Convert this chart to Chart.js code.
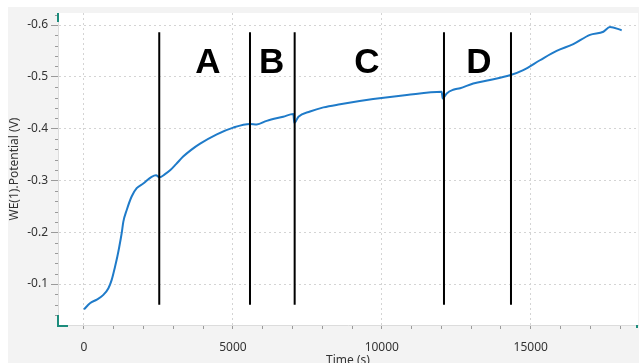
<!DOCTYPE html>
<html>
<head>
<meta charset="utf-8">
<script src="https://cdn.jsdelivr.net/npm/chart.js@4/dist/chart.umd.min.js"></script>
<style>
  html, body { margin: 0; padding: 0; background: #ffffff; }
  #wrap { width: 639px; height: 363px; }
</style>
</head>
<body>
<div id="wrap"><canvas id="c" width="639" height="363"></canvas></div>
<script>
// ---- data ----
const timeSec = [0, 200, 430, 650, 820, 930, 1040, 1120, 1185, 1265,
  1320, 1435, 1600, 1770, 1990, 2270, 2420, 2530, 2720, 2900,
  3100, 3330, 3600, 3900, 4460, 5010, 5575, 5800, 6135, 6690, 7030,
  7062, 7200, 7590, 8040, 8600, 9710, 10840, 12010, 12045, 12180,
  12400, 12630, 13070, 13630, 14300, 14750, 15310, 15870, 16430, 16990,
  17440, 17660, 18055];
const potentialV = [-0.051, -0.063, -0.070, -0.079, -0.092, -0.108, -0.133, -0.153, -0.172, -0.198,
  -0.220, -0.243, -0.269, -0.285, -0.294, -0.307, -0.310, -0.306, -0.312, -0.320,
  -0.332, -0.346, -0.359, -0.371, -0.389, -0.402, -0.409, -0.408, -0.415, -0.423, -0.428,
  -0.411, -0.423, -0.433, -0.441, -0.447, -0.457, -0.465, -0.471, -0.458, -0.468,
  -0.475, -0.478, -0.487, -0.494, -0.503, -0.513, -0.532, -0.550, -0.563, -0.581,
  -0.587, -0.596, -0.590];
const boundaryTimes = [2527, 5574, 7074, 12088, 14338];
const boundaryTop = -0.586;
const boundaryBottom = -0.060;
const regionLabels = ['A', 'B', 'C', 'D'];
const regionLabelTimes = [4164, 6303, 9503, 13264];
const regionLabelLevel = -0.531;
const xTickLabels = [0, 5000, 10000, 15000];
const yTickLabels = [-0.6, -0.5, -0.4, -0.3, -0.2, -0.1];
const xTitle = 'Time (s)';
const yTitle = 'WE(1).Potential (V)';

// ---- tick positions (minor every 1000 s / 0.02 V, labelled every 5000 s / 0.1 V) ----
const xTickValues = [];
for (let k = 0; k <= 18; k++) xTickValues.push(k * 1000);
const yTickValues = [];
for (let k = -31; k <= -2; k++) yTickValues.push(Math.round(k * 2) / 100);

// ---- build datasets ----
const curve = timeSec.map((t, i) => ({ x: t, y: potentialV[i] }));
const datasets = [{
  data: curve,
  borderColor: '#1f7bc9',
  borderWidth: 2,
  pointRadius: 0,
  cubicInterpolationMode: 'monotone',
  fill: false,
  order: 2
}];
boundaryTimes.forEach(t => {
  datasets.push({
    data: [{ x: t, y: boundaryTop }, { x: t, y: boundaryBottom }],
    borderColor: '#000000',
    borderWidth: 2,
    pointRadius: 0,
    fill: false,
    order: 1
  });
});

const isMajor = (v, step) => Math.abs(v / step - Math.round(v / step)) < 1e-6;
const fontFamily = "'Segoe UI', 'Noto Sans', 'DejaVu Sans', sans-serif";

const decor = {
  id: 'decor',
  beforeDraw(chart) {
    const { ctx, chartArea: a } = chart;
    ctx.save();
    ctx.fillStyle = '#f3f3f3';
    ctx.fillRect(8, 7, chart.width - 8, chart.height - 7);
    ctx.fillStyle = '#ffffff';
    ctx.fillRect(a.left, a.top, a.right - a.left, a.bottom - a.top);
    ctx.restore();
  },
  afterDraw(chart) {
    const { ctx, chartArea: a } = chart;
    const ys = chart.scales.y;
    const xs = chart.scales.x;
    ctx.save();
    // minor y tick marks
    ctx.strokeStyle = '#9a9a9a';
    ctx.lineWidth = 1;
    ys.ticks.forEach(t => {
      if (!isMajor(t.value, 0.1)) {
        const py = Math.round(ys.getPixelForValue(t.value)) + 0.5;
        ctx.beginPath();
        ctx.moveTo(a.left - 3, py);
        ctx.lineTo(a.left, py);
        ctx.stroke();
      }
    });
    // region letters
    ctx.fillStyle = '#000000';
    ctx.font = "bold 35px 'Liberation Sans', Arial, sans-serif";
    ctx.textAlign = 'center';
    ctx.textBaseline = 'alphabetic';
    regionLabels.forEach((lab, i) => {
      const px = xs.getPixelForValue(regionLabelTimes[i]);
      const py = ys.getPixelForValue(regionLabelLevel);
      ctx.fillText(lab, px, py + 12.5);
    });
    // teal corner marks
    ctx.fillStyle = '#1c8c7c';
    ctx.fillRect(a.left - 1, a.top, 2, 9);
    ctx.fillRect(a.left - 1, a.bottom - 10, 2, 12);
    ctx.fillRect(a.left - 1, a.bottom, 11, 2);
    ctx.fillRect(a.right - 2, a.bottom, 2, 3);
    ctx.restore();
  }
};

new Chart(document.getElementById('c'), {
  type: 'line',
  data: { datasets },
  plugins: [decor],
  options: {
    responsive: false,
    animation: false,
    devicePixelRatio: 1,
    layout: { autoPadding: false, padding: { left: 0, right: 1, top: 13, bottom: 0 } },
    plugins: { legend: { display: false }, tooltip: { enabled: false } },
    scales: {
      x: {
        type: 'linear',
        min: -873,
        max: 18603,
        afterFit(s) { s.height = 38; },
        afterBuildTicks(s) { s.ticks = xTickValues.map(v => ({ value: v })); },
        ticks: {
          autoSkip: false,
          maxRotation: 0,
          padding: 11,
          color: '#333333',
          font: { family: fontFamily, size: 12 },
          callback: v => (xTickLabels.includes(Math.round(v)) && isMajor(v, 5000)) ? String(Math.round(v)) : ''
        },
        grid: {
          color: c => (c.tick && isMajor(c.tick.value, 5000)) ? '#d4d4d4' : 'rgba(0,0,0,0)',
          tickColor: '#9a9a9a',
          tickLength: 4,
          lineWidth: 1
        },
        border: { display: true, color: '#dcdcdc', dash: [2, 3] },
        title: {
          display: true,
          text: xTitle,
          color: '#333333',
          font: { family: fontFamily, size: 12, lineHeight: 1 },
          padding: { top: 0, bottom: -4 }
        }
      },
      y: {
        type: 'linear',
        reverse: true,
        min: -0.6232,
        max: -0.0209,
        afterFit(s) { s.width = 58; },
        afterBuildTicks(s) { s.ticks = yTickValues.map(v => ({ value: v })); },
        ticks: {
          autoSkip: false,
          padding: 3,
          color: '#333333',
          font: { family: fontFamily, size: 12 },
          callback: v => {
            if (!isMajor(v, 0.1)) return '';
            const r = Math.round(v * 10) / 10;
            return yTickLabels.includes(r) ? r.toFixed(1) : '';
          }
        },
        grid: {
          color: c => (c.tick && isMajor(c.tick.value, 0.1)) ? '#d4d4d4' : 'rgba(0,0,0,0)',
          tickColor: c => (c.tick && isMajor(c.tick.value, 0.1)) ? '#9a9a9a' : 'rgba(0,0,0,0)',
          tickLength: 7,
          lineWidth: 1
        },
        border: { display: true, color: '#dcdcdc', dash: [2, 3] },
        title: {
          display: true,
          text: yTitle,
          color: '#333333',
          font: { family: fontFamily, size: 12, lineHeight: 1.2 },
          padding: { top: 7, bottom: 0 }
        }
      }
    }
  }
});
</script>
</body>
</html>
